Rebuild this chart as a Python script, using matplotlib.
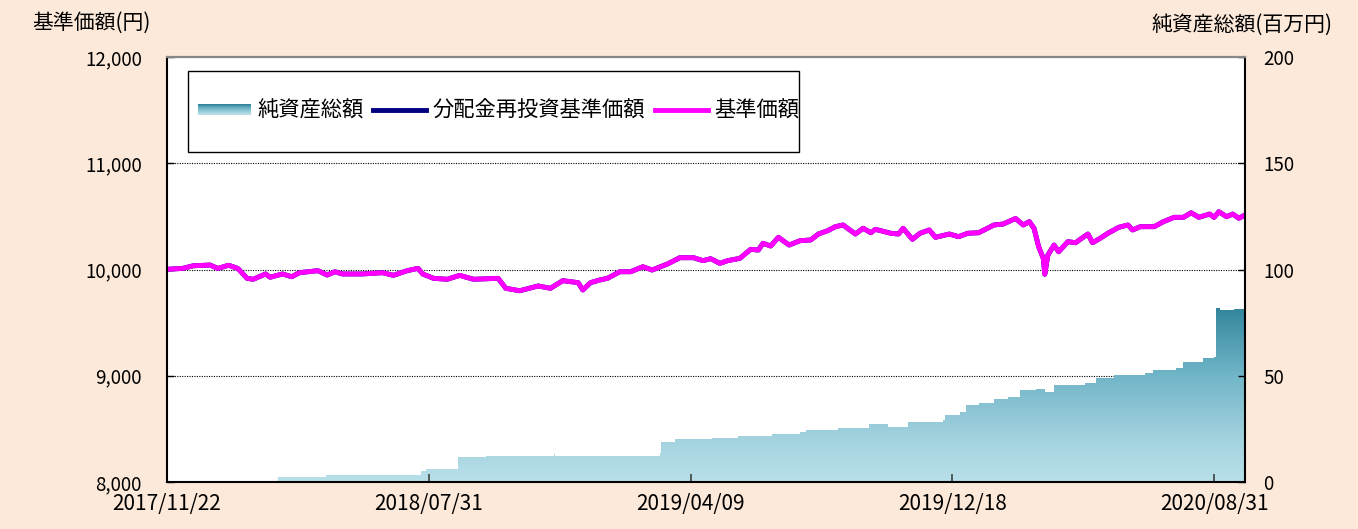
import numpy as np
import matplotlib
matplotlib.use('Agg')
import matplotlib.pyplot as plt
from matplotlib.colors import LinearSegmentedColormap
from matplotlib.patches import Rectangle
from matplotlib.lines import Line2D
from matplotlib.ticker import FuncFormatter

plt.rcParams['font.family'] = ['Noto Sans CJK JP', 'DejaVu Sans']

# x axis = business-day count from 2017/11/22
tick_day = [0, 170, 340, 510, 680]
tick_label = ['2017/11/22', '2018/07/31', '2019/04/09', '2019/12/18', '2020/08/31']
last_day = 700

# 基準価額 (円)
nav_day = [0, 10, 17, 28, 33, 40, 46, 52, 56, 64, 67, 75, 81, 86, 98, 104, 109, 114,
           127, 140, 147, 156, 163, 166, 173, 182, 190, 199, 215, 220, 229, 241, 249,
           257, 267, 270, 275, 281, 286, 294, 301, 309, 315, 325, 333, 342, 348, 353,
           359, 364, 372, 379, 384, 387, 392, 397, 404, 411, 418, 423, 429, 434, 439,
           447, 452, 457, 460, 470, 475, 478, 484, 489, 495, 499, 508, 514, 520, 527,
           537, 543, 551, 556, 560, 563, 566, 569, 570, 572, 576, 579, 585, 590, 593,
           598, 601, 606, 611, 618, 624, 627, 632, 641, 647, 654, 660, 665, 670, 677,
           680, 683, 688, 692, 696, 700]
nav = [10002, 10010, 10035, 10042, 10010, 10040, 10010, 9917, 9908, 9958, 9927, 9958,
       9932, 9970, 9989, 9948, 9979, 9958, 9958, 9970, 9945, 9989, 10011, 9958, 9917,
       9908, 9945, 9908, 9917, 9823, 9800, 9845, 9823, 9895, 9876, 9807, 9876, 9901,
       9917, 9979, 9979, 10026, 9995, 10052, 10111, 10111, 10083, 10102, 10058, 10083,
       10105, 10190, 10183, 10247, 10221, 10303, 10230, 10271, 10278, 10334, 10365,
       10403, 10419, 10334, 10388, 10346, 10378, 10341, 10334, 10388, 10284, 10341,
       10372, 10303, 10334, 10309, 10341, 10346, 10419, 10428, 10480, 10419, 10450,
       10388, 10215, 10105, 9955, 10136, 10230, 10167, 10262, 10252, 10284, 10334,
       10252, 10294, 10341, 10397, 10419, 10372, 10403, 10403, 10450, 10491, 10491,
       10534, 10491, 10522, 10491, 10544, 10497, 10522, 10482, 10513]
# 分配金再投資基準価額: no distributions, so it lies under the 基準価額 line
nav_reinvest = list(nav)

# 純資産総額 (百万円)
asset_day = [0, 72, 103, 165, 168, 189, 207, 251, 252, 320, 321, 330, 354, 371, 393,
             411, 415, 436, 456, 468, 481, 504, 505, 515, 519, 527, 537, 546, 554, 564,
             570, 576, 596, 603, 615, 635, 640, 655, 660, 673, 680, 681, 684, 693, 700]
asset = [0.6, 2.2, 3.3, 5.2, 6.3, 11.6, 12.4, 13.0, 12.2, 13.8, 19.0, 20.1, 20.5, 21.6,
         22.6, 23.4, 24.5, 25.3, 27.3, 25.7, 28.1, 29.2, 31.5, 33.1, 36.2, 37.3, 38.9,
         40.2, 43.3, 43.6, 42.5, 45.6, 46.4, 48.8, 50.5, 51.4, 52.7, 53.5, 56.6, 58.2,
         59.0, 81.7, 80.9, 81.3, 82.8]

cmap = LinearSegmentedColormap.from_list(
    'teal', [(0, '#b9e0ea'), (0.25, '#a2d2de'), (0.6, '#70b5c8'), (1, '#2f8299')])


class GradKey:
    pass


class GradHandler:
    def legend_artist(self, legend, orig_handle, fontsize, handlebox):
        x0, y0 = handlebox.xdescent, handlebox.ydescent
        w, h = handlebox.width, handlebox.height
        hh = h * 0.75
        yb = y0 + (h - hh) / 2
        n = 16
        last = None
        for i in range(n):
            last = Rectangle((x0, yb + hh * i / n), w, hh / n + 0.2,
                             facecolor=cmap(i / (n - 1)), edgecolor='none',
                             transform=handlebox.get_transform())
            handlebox.add_artist(last)
        return last


fig = plt.figure(figsize=(13.58, 5.29), dpi=100, facecolor='#fde9d9')
ax = fig.add_axes([167 / 1358, 47 / 529, 1078 / 1358, 425 / 529])
ax2 = ax.twinx()
ax.set_zorder(ax2.get_zorder() + 1)
ax.patch.set_visible(False)
ax2.patch.set_visible(True)
ax2.patch.set_facecolor('white')

# grid (under the area)
for g in [50, 100, 150]:
    ax2.axhline(g, color='black', lw=0.8, ls=(0, (1, 1.2)), zorder=0.5)

# net assets with vertical gradient
poly = ax2.fill_between(asset_day, 0, asset, step='post', facecolor='none', edgecolor='none')
im = ax2.imshow(np.linspace(0, 1, 256).reshape(-1, 1), extent=[0, last_day, 0, 84],
                origin='lower', aspect='auto', cmap=cmap, interpolation='bilinear', zorder=1)
im.set_clip_path(poly.get_paths()[0], transform=ax2.transData)

ax.plot(nav_day, nav_reinvest, color='#000080', lw=3.5, solid_joinstyle='round')
ax.plot(nav_day, nav, color='#ff00ff', lw=3.5, solid_joinstyle='round')

ax.set_xlim(0, last_day)
ax2.set_xlim(0, last_day)
ax.set_ylim(8000, 12000)
ax2.set_ylim(0, 200)
ax.set_yticks([8000, 9000, 10000, 11000, 12000])
ax.yaxis.set_major_formatter(FuncFormatter(lambda v, p: f'{v:,.0f}'))
ax2.set_yticks([0, 50, 100, 150, 200])
ax.set_xticks(tick_day)
ax.set_xticklabels(tick_label)

ax.tick_params(axis='y', direction='in', length=5, width=1, labelsize=13.5, pad=18)
ax.tick_params(axis='x', direction='in', length=6, width=1.2, labelsize=15, pad=8,
               color='#404040')
ax2.tick_params(axis='y', direction='in', length=5, width=1, labelsize=13.5, pad=13)

for s in ax2.spines.values():
    s.set_visible(False)
ax.spines['top'].set_color('#888888')
ax.spines['top'].set_linewidth(1.6)
for k in ['left', 'bottom', 'right']:
    ax.spines[k].set_color('black')
    ax.spines[k].set_linewidth(1.5)

# legend box
ax.add_patch(Rectangle(((188 - 167) / 1078, 0.776), (799 - 188) / 1078, 0.191,
                       transform=ax.transAxes, facecolor='white', edgecolor='black',
                       lw=1.0, zorder=4))
handles = [GradKey(),
           Line2D([], [], color='#000080', lw=3.5),
           Line2D([], [], color='#ff00ff', lw=3.5)]
labels = ['純資産総額', '分配金再投資基準価額', '基準価額']
leg = ax.legend(handles, labels, handler_map={GradKey: GradHandler()},
                loc='center left', bbox_to_anchor=((198 - 167) / 1078, 0.873),
                ncol=3, frameon=False, borderpad=0, borderaxespad=0,
                handlelength=2.5, handletextpad=0.28, columnspacing=0.47,
                fontsize=15.3)
leg.set_zorder(5)

fig.text(32 / 1358, 1 - 23 / 529, '基準価額(円)', fontsize=15, ha='left', va='center')
fig.text(1332 / 1358, 1 - 25 / 529, '純資産総額(百万円)', fontsize=15, ha='right', va='center')

fig.savefig('out.png', dpi=100, facecolor=fig.get_facecolor())
